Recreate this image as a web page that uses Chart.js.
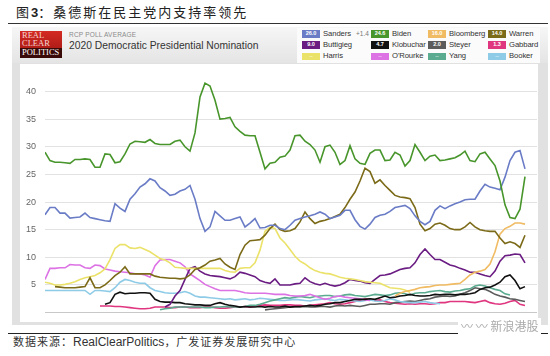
<!DOCTYPE html>
<html><head><meta charset="utf-8">
<script src="https://cdn.jsdelivr.net/npm/chart.js@4.4.1/dist/chart.umd.min.js"></script>
<style>
html,body{margin:0;padding:0;background:#fff;}
body{width:550px;height:356px;position:relative;overflow:hidden;font-family:'Liberation Sans',Arial,sans-serif;}
.abs{position:absolute;}
#title{left:16px;top:2px;font-family:'Noto Sans CJK SC',sans-serif;font-size:13px;letter-spacing:2px;color:#222;line-height:19px;white-space:nowrap;}
#title b{font-family:'Liberation Sans',Arial,sans-serif;font-weight:bold;letter-spacing:0;}
#rule{left:8px;top:23px;width:540px;height:1px;background:#333;}
#frame{left:12px;top:27px;width:536px;height:298px;background:#e1e1e1;}
#head{left:12px;top:27px;width:536px;height:36px;background:linear-gradient(#f6f6f6,#e4e4e4);}
#panel{left:20px;top:64px;width:518px;height:258px;background:#fff;}
#logo{left:20px;top:31px;width:42px;height:27px;background:linear-gradient(#d42a22,#9c1512);font-family:'Liberation Serif',serif;color:#f6d6d2;font-size:8.5px;line-height:7.6px;overflow:hidden;}
#logo div{padding-left:2px;}
#logo .pol{background:#3a0a08;color:#fff;margin-top:1px;padding-top:1px;height:9px;}
#rcp{left:69px;top:31px;font-size:6.5px;color:#8a8a8a;letter-spacing:0.2px;}
#nom{left:69px;top:40px;font-size:10.3px;color:#333;}
#legbox{left:297px;top:28px;width:243px;height:35px;background:#fbfbfb;}
.box{position:absolute;width:18px;height:7.5px;font-size:5.5px;line-height:7.5px;color:#fff;text-align:center;font-weight:bold;}
.nm{position:absolute;font-size:7.7px;letter-spacing:-0.1px;line-height:10px;color:#333;white-space:nowrap;}
#spread{left:356px;top:29px;font-size:6.5px;color:#777;line-height:10px;}
#c{position:absolute;left:15px;top:66px;}
#rule2{left:8px;top:333px;width:540px;height:1px;background:#222;}
#src{left:13px;top:334px;font-family:'Noto Sans CJK SC',sans-serif;font-size:11px;letter-spacing:1px;color:#333;line-height:15px;white-space:nowrap;}
#src span{font-family:'Liberation Sans',Arial,sans-serif;font-size:12px;letter-spacing:0;}
#wm{left:458px;top:318px;font-family:'Noto Sans CJK SC',sans-serif;font-size:12px;color:#aaa;background:#fff;padding:0 3px;line-height:16px;white-space:nowrap;}
</style></head>
<body>
<div id="title" class="abs">图<b>3</b>：桑德斯在民主党内支持率领先</div>
<div id="rule" class="abs"></div>
<div id="frame" class="abs"></div>
<div id="head" class="abs"></div>
<div id="panel" class="abs"></div>
<div id="logo" class="abs"><div style="padding-top:1px">REAL</div><div>CLEAR</div><div class="pol">POLITICS</div></div>
<div id="rcp" class="abs">RCP POLL AVERAGE</div>
<div id="nom" class="abs">2020 Democratic Presidential Nomination</div>
<div id="legbox" class="abs"></div>
<div id="legend"></div>
<div id="spread" class="abs">+1.4</div>
<canvas id="c" width="530" height="261"></canvas>
<div id="rule2" class="abs"></div>
<div id="src" class="abs">数据来源：<span>RealClearPolitics</span>，广发证券发展研究中心</div>
<div id="wm" class="abs">〰 〰 新浪港股</div>
<script>
// ---- data ----
const candidates = ["Sanders","Biden","Bloomberg","Warren","Buttigieg","Klobuchar","Steyer","Gabbard","Harris","O'Rourke","Yang","Booker"];
const legendValues = ["26.0","24.6","16.0","14.0","9.0","4.7","2.0","1.3","--","--","--","--"];
const colors = ["#6a7cc6","#47952b","#f0bb62","#7b6a18","#6a1c82","#111111","#5c5c5c","#e0357f","#ebe26a","#dc72e4","#5aab90","#8ecbe6"];
const yTicks = [5,10,15,20,25,30,35,40];

const biden = [29,27.5,27.2,27.2,27.1,27.0,27.7,27.7,27.8,27.7,
26.3,26.3,28.7,28.6,27.1,27.3,28.7,30.5,31,30.9,
30.8,31.3,30.6,30.4,30.4,30.4,31,31.2,30,29.2,
32.5,39,41.5,41,38.4,35,35.1,35.3,33.6,32.8,
32.1,32,32,29,26,27,27.2,28.1,28.3,29.4,
32,32.1,31,30.4,29.4,27.2,30,30.3,29,26.8,
27.5,30.2,27.8,27,26.8,28.8,29.4,29.4,27.5,27.6,
29,28.5,26.5,27.5,30.4,29,27.5,28.3,28.5,27.5,
27.6,27.8,28,28.5,29.2,27.5,27.3,28.7,29,27.8,
26.6,23.8,19.5,17.2,17,18.7,24.6];

const sanders = [17.7,19,19,18,18,17.1,17.2,17.3,18,17.2,
17,16.8,16.6,16.5,19.7,18.9,18.3,20.5,21.5,22.7,
23.3,24.2,23.8,22.6,22,21.2,21.4,22,22.3,23,
20.5,17,14.7,15.5,18.3,17.5,16.7,16.7,17,17.3,
15.5,16.2,17,15.3,15.4,15.8,15.8,15.2,15,15.8,
16.7,17,17.3,17.5,17.8,18.2,17.8,17,17.3,17.6,
18.5,18.5,16.8,15.6,15.1,16,17.2,17.6,17.8,18.3,
19,19.2,19.4,18.8,17.5,16.5,15.9,16.5,18.5,19.3,
18.8,19.3,19.7,20,20.4,20.5,20.5,22,23.2,22.7,
22.5,22.2,24.5,27.5,29,29.3,26];

const warren = [null,null,4.7,4.6,4.5,4.5,4.5,4.6,4.7,6.3,
4.5,4.5,5,5.8,6.7,7.3,8.3,7,7,7,
7,7,6.6,6.4,6.3,6.2,6.2,6.1,6.2,6.8,
7.8,8.1,8.6,9.3,9.5,9.8,8.8,8.2,7.8,10.5,
12.2,13,13.1,13.2,14,15.2,16,15,14.7,14.8,
15.2,16.4,18.2,17,16.1,16.5,16.7,17,17.4,17.8,
19,20.5,21.8,23.8,26.1,25.5,23.4,24,23,22.1,
21.2,20.9,20.8,20.6,19,16,14.8,15.2,16,16.2,
15.8,15.2,15,15,15.5,16.3,15.5,15,14.8,14.7,
14.7,13.5,12.5,12.8,12.5,11.8,14];

const harris = [5.5,5.3,5,5,5.1,5.3,5.6,6,6.3,6.5,
6.7,7.2,7.9,9.6,11.6,12.3,12.3,11.7,11.6,11.8,
11.4,11,10.4,9.8,9.5,9,8.2,8.1,8,8,
8,8,8,8,8,8,7.6,7.4,7.3,8,
8.1,8.1,9,11.3,14.7,15.4,15.2,13.5,12.6,11.4,
10.2,9.3,8.8,8.1,7.6,7.3,7.1,7,6.7,6.4,
6.2,6.1,6,5.8,5.6,5.5,5.4,5.3,4.9,4.5,
4.4,4.3,4.1,3.7,null,null,null,null,null,null,
null,null,null,null,null,null,null,null,null,null,
null,null,null,null,null,null,null];

const bloomberg = [null,null,null,null,null,null,null,null,null,null,
null,null,null,null,null,null,null,null,null,null,
null,null,null,null,null,null,null,null,null,null,
null,null,null,null,null,null,null,null,null,null,
null,null,null,null,null,null,null,null,null,null,
null,null,null,null,null,null,null,null,null,null,
null,null,null,null,null,null,null,null,null,null,
3,3.5,3.8,4,4.2,4.5,4.6,4.7,4.9,5,
5,5.1,5.2,5.3,6,6.8,7.3,7.5,7.8,8.8,
11,14.2,15.2,15.6,16.2,16.2,16];

const buttigieg = [null,null,null,null,null,null,null,null,null,null,
null,null,null,null,null,null,null,null,null,null,
null,null,null,null,1,1.5,3,4,6,8,
8.3,7.5,7,6.7,6.6,6.5,6.3,6.1,6.5,7.3,
7.1,6.8,6.5,5.8,5.5,5.3,6.1,5,5,5,
5.2,5.3,6.3,5.6,5.2,5,5.3,5,4.8,5,
5.4,6,5.8,5.7,5.4,5.3,6,6.7,6.8,7,
7.4,7.8,8,8.1,9,10.5,11.5,10.5,9.6,9.6,
9.1,8.6,8.4,8,7.7,7.3,7.3,7,6.7,6.5,
7.5,9.3,10.3,10.4,10.6,10.5,9];

const klobuchar = [null,null,null,null,null,null,null,null,null,null,
null,null,1.5,1.8,3.3,3.7,3.4,3.5,3.5,3.6,
3.6,3.5,2.4,2,1.9,1.9,1.8,1.8,1.6,1.5,
1.4,1.4,1.3,1.3,1.6,1.8,1.5,1.3,1.2,1,
1.1,1,1,1.1,1,1.1,1,1,1.2,1,
1.1,1.1,1.2,1.3,1.2,1.3,1.5,1.6,1.8,1.8,
2,2.2,2.4,2.4,2.4,2.5,2.4,2.7,3,2.7,
2.8,3,3.1,3.3,3.1,3,3,3.1,3.3,3.2,
3.3,3.3,3.2,3.3,3.3,3.4,3.6,4.2,4.5,4.6,
5,5.5,6.5,6.8,5.8,4.3,4.7];

const steyer = [null,null,null,null,null,null,null,null,null,null,
null,null,null,null,null,null,null,null,null,null,
null,null,null,null,null,null,null,null,null,null,
null,null,null,null,null,null,null,null,null,null,
null,null,null,null,0.5,0.6,0.7,0.8,0.9,1,
1,1,1.1,1,1,1.1,1.1,1,1.2,1.3,
1.2,1.3,1.2,1.1,1.3,1.5,1.5,1.6,1.6,1.5,
1.8,1.9,2,2.1,2,2.2,2.4,2.5,2.8,2.9,
3,2.9,3,3.3,3.6,4,4.5,4.3,4.2,3.8,
3.3,3,2.8,2.5,2.4,2.2,2];

const gabbard = [null,null,null,null,null,null,null,null,null,null,
null,1.2,1.2,1.2,1.1,1.1,1,0.9,0.8,0.7,
0.7,0.8,1,1,1,0.9,0.9,1,1,0.9,
0.9,0.9,1,1,0.9,0.8,0.8,0.9,1,1,
1.1,1,1.2,1.3,1.4,1.3,1.3,1.3,1.4,1.4,
1.3,1.3,1.2,1.3,1.4,1.5,1.6,1.8,1.6,1.5,
1.6,1.8,2,2.2,2.5,2.4,2.2,2.3,2,1.8,
1.7,1.6,1.5,1.6,1.5,1.6,1.6,1.5,1.6,1.8,
1.8,2,2,2,2,1.9,1.8,2,2.2,1.8,
1.6,1.5,1.7,2,2.2,1.5,1.3];

const orourke = [6,8,8,8.1,8.1,8.7,8.6,8.6,8.1,8,
8.6,8.5,7.9,7.7,7.5,7.4,7.3,7.2,7,7,
6.8,6.4,8.5,9.5,9.6,9.6,9.3,9,8.3,7,
6.4,5.8,5.1,4.7,4.3,4,4,4,4,3.8,
3.6,3.5,3.5,3.5,3.5,3.4,3.3,3.3,3.3,3.1,
3,3,3.1,3.3,3,2.7,2.4,2.6,2.9,3,
2.8,2.7,2.6,2.5,2.3,2.2,null,null,null,null,
null,null,null,null,null,null,null,null,null,null,
null,null,null,null,null,null,null,null,null,null,
null,null,null,null,null,null,null];

const yang = [null,null,null,null,null,null,null,null,null,null,
null,null,null,null,null,null,null,null,null,null,
null,null,null,0.5,0.7,0.8,1,1,1,1,
1,1,0.9,0.9,1,1,1.1,1,1,1,
1.1,1.3,1.3,1.5,1.8,2.1,2.3,2.5,2.7,2.6,
2.8,2.9,2.8,2.7,2.9,3,3.1,3.1,2.9,3,
3.2,3.3,3.1,3,2.9,3.1,3.3,3.2,3.1,3.2,
3.5,3.6,3.4,3.2,3.5,3.6,3.6,3.8,3.9,4,
3.8,3.7,3.9,4,4.2,4.3,4.8,5,4.8,4.5,
4.2,4,3.4,3.2,null,null,null];

const booker = [4,4,4,4,4,4,4,4,4,3.3,
4,4,3.9,3.8,4.5,5.5,6,5.8,5.5,5.3,
5.3,4.5,4,3.8,3.6,3.5,3.5,3.6,3.8,3.5,
3,2.8,2.8,2.7,2.6,2.5,2.4,2.5,2.3,2.4,
2.5,2.3,2.4,2.6,2.5,2.4,2.3,2.2,2.2,2.3,
2.4,2.3,2.2,2.1,2.3,2.4,2.5,2.3,2.2,2.4,
2.3,2.2,2.1,2.0,2.2,2.3,2.1,2.0,2.2,2.5,
2.3,2.0,1.9,1.8,1.8,1.9,2.0,1.8,1.7,1.6,
null,null,null,null,null,null,null,null,null,null,
null,null,null,null,null,null,null];

const seriesValues = [sanders,biden,bloomberg,warren,buttigieg,klobuchar,steyer,gabbard,harris,orourke,yang,booker];

// ---- legend (HTML) ----
const legCols = [302,371,428,488];
const legRows = [30,41,52.5];
const leg = document.getElementById('legend');
candidates.forEach((name,i)=>{
  const r = Math.floor(i/4), c = i%4;
  const b = document.createElement('div');
  b.className='box'; b.style.left=legCols[c]+'px'; b.style.top=legRows[r]+'px';
  b.style.background=colors[i]; b.textContent=legendValues[i];
  if(legendValues[i]==='--'){b.style.color='rgba(255,255,255,0.6)';}
  leg.appendChild(b);
  const n = document.createElement('div');
  n.className='nm'; n.style.left=(legCols[c]+21)+'px'; n.style.top=(legRows[r]-1.3)+'px';
  n.textContent=name; leg.appendChild(n);
});

// ---- chart ----
const drawOrder = [1,0,3,2,8,4,5,9,10,11,6,7];
new Chart(document.getElementById('c'), {
  type:'line',
  data:{datasets: candidates.map((name,i)=>({
    label:name,
    data: seriesValues[i].map((v,k)=>({x:k,y:v})),
    borderColor: colors[i],
    borderWidth: 1.6,
    pointRadius: 0,
    fill:false,
    tension:0,
    spanGaps:false,
    order: drawOrder.indexOf(i)
  }))},
  options:{
    responsive:false, animation:false, devicePixelRatio:1,
    layout:{padding:{left:0,right:8,top:8.5,bottom:8}},
    plugins:{legend:{display:false},tooltip:{enabled:false}},
    scales:{
      x:{type:'linear',min:0,max:98.4,display:false},
      y:{min:0,max:42,
        afterBuildTicks:(s)=>{ s.ticks = [0].concat(yTicks).map(v=>({value:v})); },
        afterFit:(s)=>{ s.width = 30; },
        ticks:{padding:9,color:'#666',font:{size:9,family:'Liberation Sans'},callback:(v)=> v===0?'':String(v)},
        grid:{drawTicks:false,color:(c)=> c.tick && c.tick.value===0 ? '#c8c8c8' : '#e2e2e2', lineWidth:1},
        border:{display:false}
      }
    }
  }
});
</script>
</body></html>
